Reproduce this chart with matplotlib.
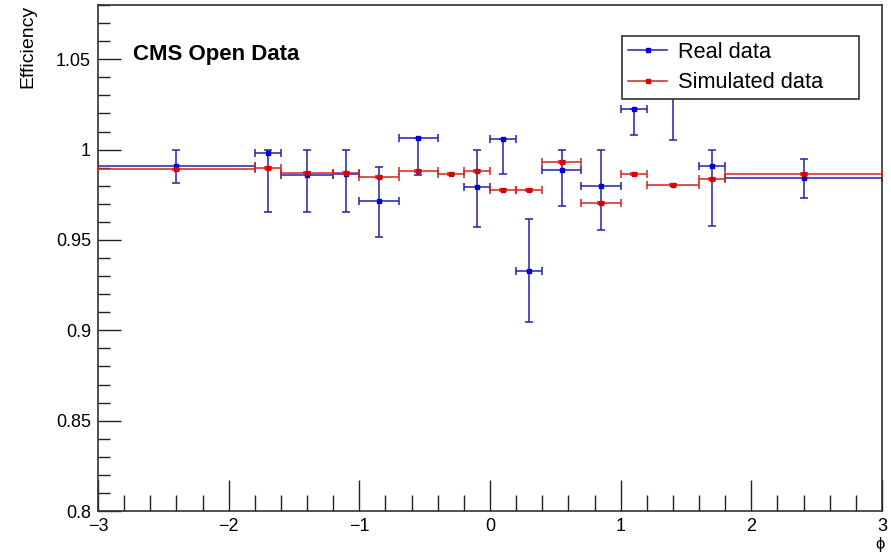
import numpy as np
import matplotlib
matplotlib.use("Agg")
from matplotlib import pyplot as plt
from matplotlib.lines import Line2D
from matplotlib.ticker import MultipleLocator

plt.rcParams['font.family'] = ['Liberation Sans', 'DejaVu Sans']

# phi bin edges (same binning for both samples)
bin_edges = [-3.0, -1.8, -1.6, -1.2, -1.0, -0.7, -0.4, -0.2, 0.0,
             0.2, 0.4, 0.7, 1.0, 1.2, 1.6, 1.8, 3.0]

# real data efficiency, asymmetric errors (nan = empty bin)
real_eff = [0.991, 0.998, 0.9858, 0.9867, 0.9714, 1.0066, np.nan, 0.9793,
            1.0059, 0.933, 0.9887, 0.9798, 1.0223, 1.045, 0.9907, 0.9845]
real_low = [0.9815, 0.9654, 0.9654, 0.9654, 0.9516, 0.9857, np.nan, 0.957,
            0.9863, 0.9044, 0.9688, 0.9553, 1.0079, 1.0055, 0.9575, 0.9734]
real_high = [0.9996, 0.9996, 1.0, 1.0, 0.9904, 1.0066, np.nan, 0.9996,
             1.0059, 0.9614, 0.9996, 0.9996, 1.0223, 1.045, 0.9996, 0.9946]

# simulated efficiency (statistical errors too small to see)
sim_eff = [0.989, 0.9897, 0.9873, 0.987, 0.985, 0.988, 0.9863, 0.9881,
           0.9778, 0.9778, 0.9931, 0.9704, 0.9863, 0.9806, 0.9835, 0.9867]
sim_err = [0.0005] * 16

edges = np.array(bin_edges)
centers = 0.5 * (edges[:-1] + edges[1:])
halfw = 0.5 * (edges[1:] - edges[:-1])

blue = '#0000dd'
blue_line = '#2222aa'
red = '#dd0000'
red_line = '#d42222'

fig = plt.figure(figsize=(8.91, 5.54), dpi=100)
ax = fig.add_axes([98 / 891, 1 - 511 / 554, 784 / 891, 506 / 554])

r = np.array(real_eff)
yerr_r = [r - np.array(real_low), np.array(real_high) - r]
ok = ~np.isnan(r)
ax.errorbar(centers[ok], r[ok], xerr=halfw[ok],
            yerr=[yerr_r[0][ok], yerr_r[1][ok]],
            fmt='s', color=blue, ecolor=blue_line, ms=3.5, elinewidth=1.1,
            capsize=2.6, capthick=1.1, zorder=2)
ax.errorbar(centers, sim_eff, xerr=halfw, yerr=sim_err,
            fmt='s', color=red, ecolor=red_line, ms=3.5, elinewidth=1.1,
            capsize=2.6, capthick=1.1, zorder=3)

ax.set_xlim(-3, 3)
ax.set_ylim(0.8, 1.08)
ax.xaxis.set_major_locator(MultipleLocator(1))
ax.xaxis.set_minor_locator(MultipleLocator(0.2))
ax.yaxis.set_major_locator(MultipleLocator(0.05))
ax.yaxis.set_minor_locator(MultipleLocator(0.01))
ax.set_yticks([0.8, 0.85, 0.9, 0.95, 1.0, 1.05])
ax.set_yticklabels(['0.8', '0.85', '0.9', '0.95', '1', '1.05'])
ax.tick_params(axis='both', which='both', direction='in', top=False,
               right=False, labelsize=13, color='#222222', width=1)
ax.tick_params(axis='x', which='major', length=22, pad=5)
ax.tick_params(axis='x', which='minor', length=11.5)
ax.tick_params(axis='y', which='major', length=16.5, pad=5)
ax.tick_params(axis='y', which='minor', length=8.5)
for s in ax.spines.values():
    s.set_color('#333333')
    s.set_linewidth(1.2)

ax.text(133 / 891, 1 - 54 / 554, 'CMS Open Data', transform=fig.transFigure,
        fontsize=16, fontweight='bold', ha='left', va='center')

fig.text(28 / 891, 1 - 5 / 554, 'Efficiency', rotation=90, ha='center',
         va='top', fontsize=14)
fig.text(880 / 891, 1 - 545 / 554, 'ϕ', ha='center', va='center',
         fontsize=12)

handles = [Line2D([], [], color=blue_line, marker='s', mfc=blue, mec=blue,
                  ms=3.5, lw=1.1),
           Line2D([], [], color=red_line, marker='s', mfc=red, mec=red,
                  ms=3.5, lw=1.1)]
leg = ax.legend(handles, ['Real data', 'Simulated data'], loc='upper left',
                bbox_to_anchor=(622 / 891, 1 - 97 / 554, 237 / 891, 61 / 554),
                bbox_transform=fig.transFigure, mode='expand', fontsize=15.7,
                frameon=True, fancybox=False, edgecolor='#333333',
                framealpha=1, handlelength=1.8, handletextpad=0.5,
                borderpad=0.28, labelspacing=0.42, borderaxespad=0)
leg.get_frame().set_linewidth(1.2)
leg.set_zorder(10)

fig.savefig('out.png', dpi=100)
